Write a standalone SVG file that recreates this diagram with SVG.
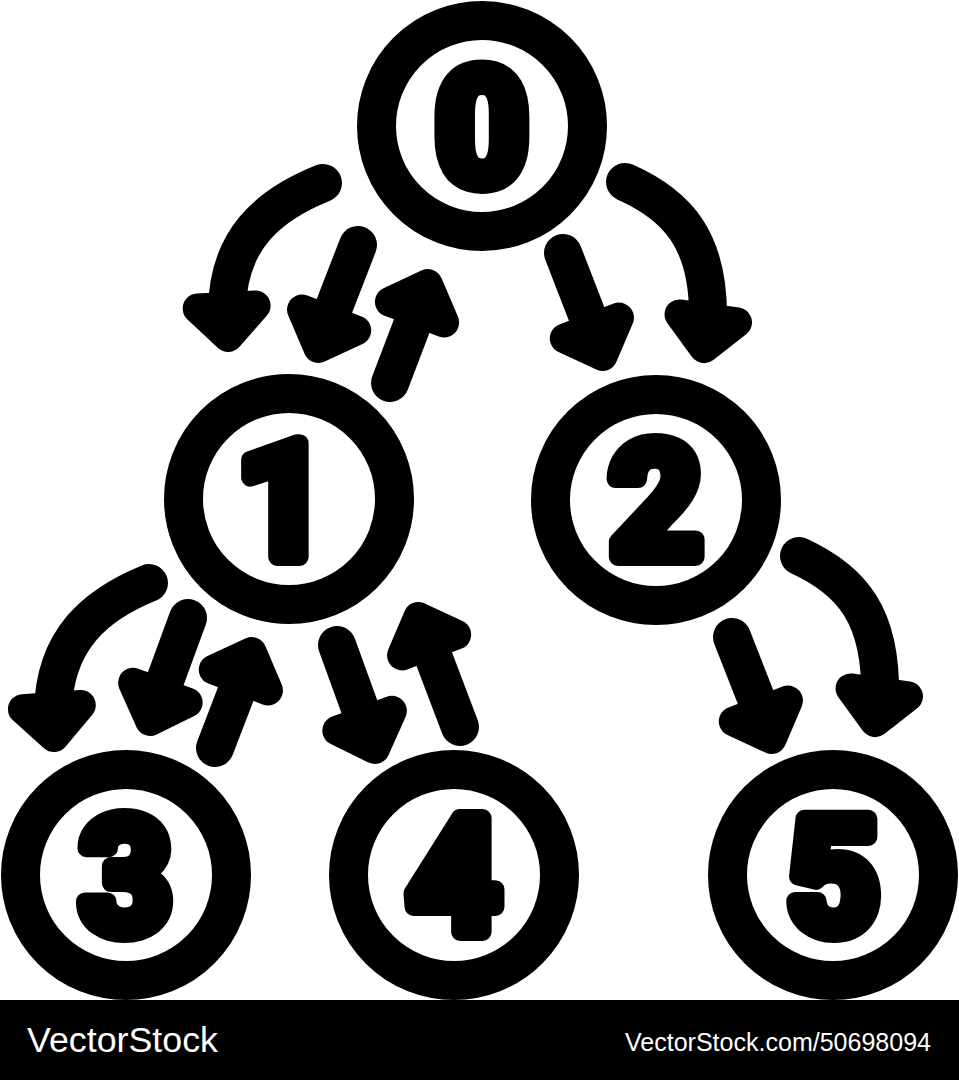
<svg xmlns="http://www.w3.org/2000/svg" xmlns:xlink="http://www.w3.org/1999/xlink" width="959" height="1080" viewBox="0 0 959 1080">
<style>
.ring{fill:none;stroke:#000;stroke-width:39}
.digit{font-family:Roboto,"Liberation Sans",Arial,sans-serif;font-weight:700;font-size:160px;fill:#000;stroke:#000;stroke-width:18;stroke-linejoin:round;stroke-linecap:round;text-anchor:middle}
.shaft{fill:none;stroke:#000;stroke-width:38;stroke-linecap:round}
.brand{font-family:"Liberation Sans",Arial,sans-serif;fill:#fff}
</style>
<defs>
<path id="ah" d="M-29,-45 L29,-45 L0,-15 Z" fill="#000" stroke="#000" stroke-width="30" stroke-linejoin="round"/>
</defs>
<rect width="959" height="1080" fill="#fff"/>
<g id="connectors">
<path class="shaft" d="M323 183 C268 205 227 240 227 312"/>
<use xlink:href="#ah" transform="translate(229 352) rotate(-3)"/>
<path class="shaft" d="M358 245 L327 325"/>
<use xlink:href="#ah" transform="translate(313 362) rotate(21)"/>
<path class="shaft" d="M390 383 L419 307"/>
<use xlink:href="#ah" transform="translate(433 270) rotate(200.8)"/>
<path class="shaft" d="M563 253 L594 333"/>
<use xlink:href="#ah" transform="translate(608 370) rotate(-21)"/>
<path class="shaft" d="M625 182 C677 205 709 240 708 318"/>
<use xlink:href="#ah" transform="translate(702 363) rotate(8)"/>
<path class="shaft" d="M149 583 C95 605 54 640 53 712"/>
<use xlink:href="#ah" transform="translate(55 752) rotate(-4)"/>
<path class="shaft" d="M188 618 L159 697"/>
<use xlink:href="#ah" transform="translate(145 735) rotate(20)"/>
<path class="shaft" d="M215 748 L243 675"/>
<use xlink:href="#ah" transform="translate(257 638) rotate(201)"/>
<path class="shaft" d="M337 645 L366 725"/>
<use xlink:href="#ah" transform="translate(380 763) rotate(-20)"/>
<path class="shaft" d="M460 727 L427 640"/>
<use xlink:href="#ah" transform="translate(413 603) rotate(159)"/>
<path class="shaft" d="M732 637 L763 716"/>
<use xlink:href="#ah" transform="translate(777 753) rotate(-21)"/>
<path class="shaft" d="M799 556 C851 580 882 615 880 697"/>
<use xlink:href="#ah" transform="translate(873 737) rotate(8)"/>
</g>
<g id="node0"><circle class="ring" cx="482" cy="126" r="105.5"/><text class="digit" x="482" y="183">0</text></g>
<g id="node1"><circle class="ring" cx="289" cy="499" r="105.5"/><text class="digit" x="283" y="557">1</text></g>
<g id="node2"><circle class="ring" cx="656" cy="500" r="105.5"/><text class="digit" x="656" y="557">2</text></g>
<g id="node3"><circle class="ring" cx="126" cy="875" r="105.5"/><text class="digit" x="126" y="932">3</text></g>
<g id="node4"><circle class="ring" cx="454" cy="875" r="105.5"/><text class="digit" x="454" y="932">4</text></g>
<g id="node5"><circle class="ring" cx="833" cy="875" r="105.5"/><text class="digit" x="833" y="932">5</text></g>
<g id="banner">
<rect x="0" y="1000" width="959" height="80" fill="#000"/>
<text class="brand" x="27" y="1052" font-size="35" textLength="191" lengthAdjust="spacingAndGlyphs">VectorStock</text>
<text class="brand" x="625" y="1051" font-size="25" textLength="306" lengthAdjust="spacingAndGlyphs">VectorStock.com/50698094</text>
</g>
</svg>
